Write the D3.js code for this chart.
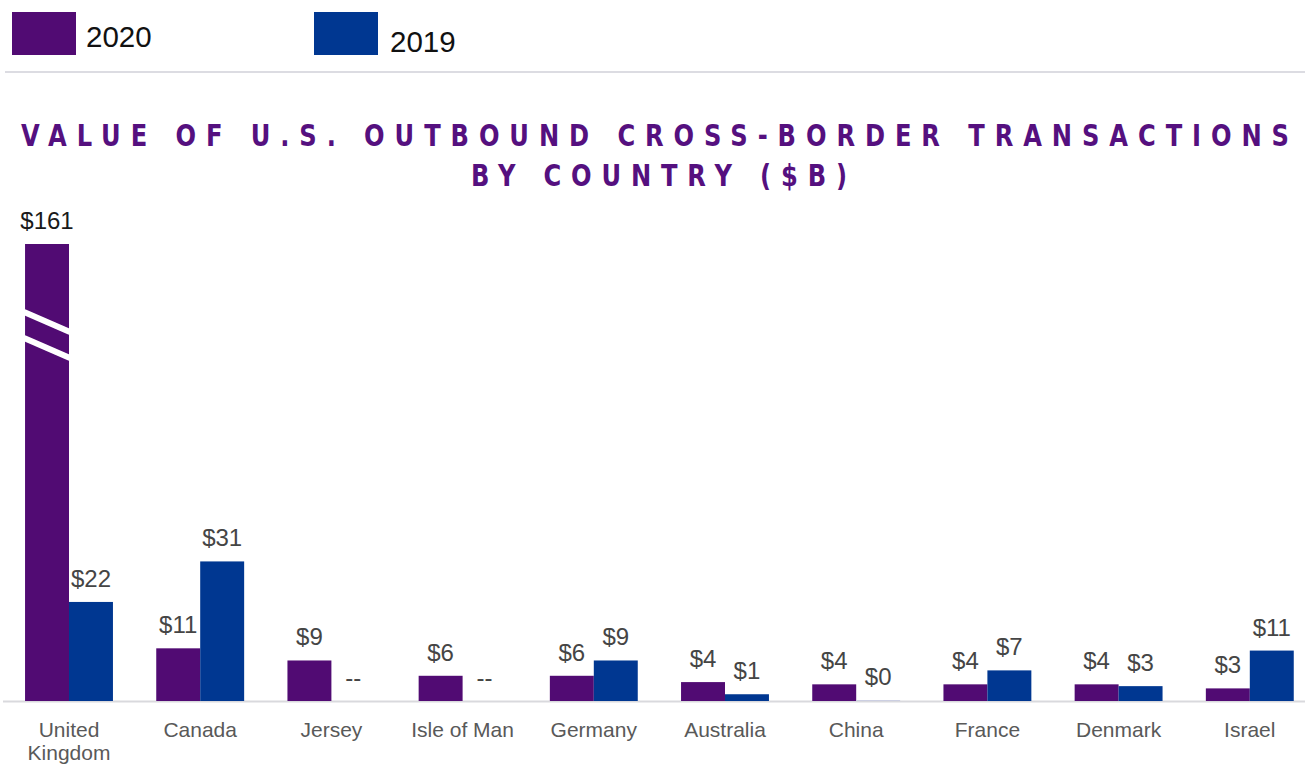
<!DOCTYPE html>
<html>
<head>
<meta charset="utf-8">
<script src="https://cdn.jsdelivr.net/npm/d3@7/dist/d3.min.js"></script>
<style>
  html, body { margin: 0; padding: 0; background: #fff; }
  svg { display: block; }
</style>
</head>
<body>
<svg id="chart" width="1305" height="765"></svg>
<script>
// ---- data ----
const categories = ["United Kingdom", "Canada", "Jersey", "Isle of Man", "Germany", "Australia", "China", "France", "Denmark", "Israel"];
const seriesNames = ["2020", "2019"];
const values2020 = [161, 11.7, 9, 5.6, 5.6, 4.2, 3.7, 3.7, 3.7, 2.8];
const values2019 = [22, 31, null, null, 9, 1.5, 0.2, 6.8, 3.3, 11.2];
const labels2020 = ["$161", "$11", "$9", "$6", "$6", "$4", "$4", "$4", "$4", "$3"];
const labels2019 = ["$22", "$31", "--", "--", "$9", "$1", "$0", "$7", "$3", "$11"];
const titleLines = ["VALUE OF U.S. OUTBOUND CROSS-BORDER TRANSACTIONS", "BY COUNTRY ($B)"];

// ---- styles ----
const colors = { "2020": "#510B73", "2019": "#003791" };
const svg = d3.select("#chart");

// ---- scales ----
const x0 = d3.scaleBand().domain(categories).range([3.4, 1315.4]).paddingInner(0.33).paddingOuter(0.165);
const x1 = d3.scaleBand().domain(seriesNames).range([0, x0.bandwidth()]);
const y = d3.scaleLinear().domain([0, 101.5]).range([701, 244]).clamp(true);

// ---- legend ----
const legend = [
  { name: "2020", x: 12, tx: 86, ty: 47 },
  { name: "2019", x: 314, tx: 390, ty: 52 }
];
legend.forEach(l => {
  svg.append("rect").attr("x", l.x).attr("y", 12).attr("width", 64).attr("height", 43).attr("fill", colors[l.name]);
  svg.append("text").attr("x", l.tx).attr("y", l.ty).text(l.name)
    .attr("font-family", "Liberation Sans, Arial, sans-serif").attr("font-size", 29.5).attr("fill", "#111");
});
svg.append("line").attr("x1", 5).attr("x2", 1305).attr("y1", 72).attr("y2", 72)
  .attr("stroke", "#dcdce2").attr("stroke-width", 2);

// ---- title ----
const squeeze = 0.78;
const titleSpec = [
  { text: titleLines[0], cx: 655, y: 146, len: 1268 },
  { text: titleLines[1], cx: 659, y: 186, len: 376 }
];
titleSpec.forEach(t => {
  svg.append("g").attr("transform", `translate(${t.cx - t.len / 2},${t.y}) scale(${squeeze},1)`)
    .append("text").attr("x", 0).attr("y", 0).text(t.text)
    .attr("font-family", "DejaVu Sans, sans-serif")
    .attr("font-weight", "bold").attr("font-size", 31).attr("fill", "#55107F")
    .attr("textLength", t.len / squeeze).attr("lengthAdjust", "spacing");
});

// ---- baseline ----
svg.append("line").attr("x1", 3).attr("x2", 1305).attr("y1", 701.5).attr("y2", 701.5)
  .attr("stroke", "#d9d9dd").attr("stroke-width", 2);

// ---- bars ----
const rows = categories.map((c, i) => ({
  cat: c,
  items: [
    { s: "2020", v: values2020[i], label: labels2020[i] },
    { s: "2019", v: values2019[i], label: labels2019[i] }
  ]
}));

const g = svg.selectAll("g.grp").data(rows).enter().append("g")
  .attr("class", "grp").attr("transform", d => `translate(${x0(d.cat)},0)`);

g.selectAll("rect").data(d => d.items.filter(it => it.v != null)).enter().append("rect")
  .attr("x", d => x1(d.s)).attr("width", x1.bandwidth())
  .attr("y", d => y(d.v)).attr("height", d => y(0) - y(d.v))
  .attr("fill", d => d.v < 0.5 ? "#c9cde0" : colors[d.s]);

g.selectAll("text.val").data(d => d.items).enter().append("text")
  .attr("class", "val")
  .attr("x", d => x1(d.s) + x1.bandwidth() / 2)
  .attr("y", d => y(d.v == null ? 0 : d.v) - 15)
  .attr("text-anchor", "middle")
  .attr("font-family", "Liberation Sans, Arial, sans-serif").attr("font-size", 24)
  .attr("fill", d => d.v > 101.5 ? "#1a1a1a" : "#454545")
  .text(d => d.label);

// ---- axis break marks on the capped bar ----
rows.forEach(r => {
  r.items.forEach(it => {
    if (it.v != null && it.v > y.domain()[1]) {
      const bx = x0(r.cat) + x1(it.s), bw = x1.bandwidth();
      [312, 338].forEach(yy => {
        svg.append("line").attr("x1", bx - 1).attr("x2", bx + bw + 1)
          .attr("y1", yy).attr("y2", yy + 20)
          .attr("stroke", "#fff").attr("stroke-width", 6);
      });
    }
  });
});

// ---- category labels ----
const xAxis = svg.append("g");
categories.forEach(c => {
  const cx = x0(c) + x0.bandwidth() / 2;
  const words = c === "United Kingdom" ? ["United", "Kingdom"] : [c];
  const t = xAxis.append("text").attr("x", cx).attr("y", 737).attr("text-anchor", "middle")
    .attr("font-family", "Liberation Sans, Arial, sans-serif").attr("font-size", 21).attr("fill", "#595959");
  words.forEach((w, i) => {
    t.append("tspan").attr("x", cx).attr("dy", i === 0 ? 0 : 23).text(w);
  });
});
</script>
</body>
</html>
